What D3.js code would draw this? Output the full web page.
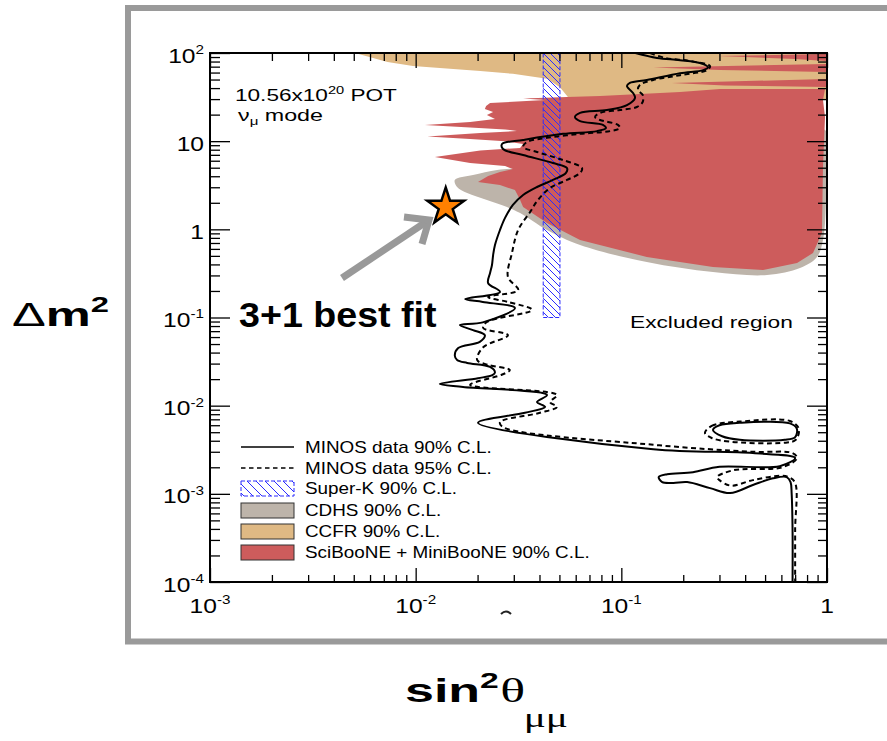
<!DOCTYPE html>
<html>
<head>
<meta charset="utf-8">
<script src="https://cdn.jsdelivr.net/npm/d3@7"></script>
<style>
  html, body { margin: 0; padding: 0; background: #fff; }
  svg { display: block; font-family: "Liberation Sans", Arial, Helvetica, sans-serif; }
</style>
</head>
<body>
<svg id="chart" width="887" height="741"></svg>
<script>
// ---------------- data (sin^2 theta_mumu, Delta m^2 [eV^2]) ----------------
const xTickValues = [1e-3, 1e-2, 1e-1, 1];
const xTickLabels = [["10", "-3"], ["10", "-2"], ["10", "-1"], ["1", ""]];
const yTickValues = [1e-4, 1e-3, 1e-2, 1e-1, 1, 10, 100];
const yTickLabels = [["10", "-4"], ["10", "-3"], ["10", "-2"], ["10", "-1"], ["1", ""], ["10", ""], ["10", "2"]];

// MINOS 90% C.L. contour
const minos90 = [
  [0.117,100],[0.149,88],[0.193,83],[0.241,77],[0.264,69],[0.25,64],[0.193,59],[0.133,49.4],
  [0.110,45.7],[0.1065,42.2],[0.114,35.2],[0.1165,30.9],[0.1065,25.7],[0.0852,22.6],[0.063,20.9],
  [0.0595,18.8],[0.063,16.9],[0.0814,15.3],[0.0842,14.1],[0.0762,13.0],[0.052,12.1],[0.0333,10.3],
  [0.0263,9.29],[0.0266,8.15],[0.0333,6.97],[0.0465,5.65],[0.0544,4.96],[0.0538,4.36],[0.0465,3.63],
  [0.0389,3.02],[0.0333,2.45],[0.0297,1.89],[0.0272,1.35],[0.0257,0.983],[0.0243,0.664],[0.0238,0.51],
  [0.0235,0.394],[0.023,0.32],[0.0225,0.246],[0.0257,0.195],[0.0174,0.162],[0.0212,0.15],[0.0304,0.128],
  [0.0212,0.088],[0.0164,0.082],[0.019,0.072],[0.0217,0.063],[0.0205,0.053],[0.0161,0.045],[0.0155,0.037],
  [0.0159,0.033],[0.0178,0.0305],[0.023,0.0275],[0.0243,0.0238],[0.0236,0.0222],[0.0201,0.0205],
  [0.0131,0.0176],[0.017,0.0163],[0.0435,0.0132],[0.0389,0.011],[0.0426,0.0097],[0.034,0.0083],
  [0.0201,0.0064],[0.143,0.0032],[0.436,0.0029],[0.70,0.00255],[0.589,0.00206],[0.30,0.00203],
  [0.223,0.00176],[0.167,0.00167],[0.152,0.00155],[0.158,0.00136],[0.179,0.00133],[0.209,0.00136],
  [0.27,0.00116],[0.338,0.00102],[0.436,0.00126],[0.546,0.0015],[0.637,0.00155],[0.665,0.00136],
  [0.673,0.00102],[0.68,0.00039],[0.68,0.0001]
];
const minos90Island = [
  [0.279,0.0053],[0.30,0.006],[0.377,0.0064],[0.66,0.0063],[0.713,0.0055],
  [0.70,0.0044],[0.623,0.0041],[0.377,0.0041],[0.309,0.0045]
];

// MINOS 95% C.L. contour
const minos95 = [
  [0.138,100],[0.163,88],[0.216,81],[0.270,71],[0.261,64],[0.193,56],[0.143,49.4],[0.123,43.4],
  [0.1205,38],[0.127,33.4],[0.127,27.8],[0.119,24.4],[0.0985,22.6],[0.0788,20.9],[0.0745,18.8],
  [0.0788,17.4],[0.0963,15.3],[0.0985,14.1],[0.0881,13.0],[0.063,12.1],[0.0435,10.9],[0.0348,9.8],
  [0.0333,8.6],[0.0389,7.54],[0.052,6.11],[0.0644,4.96],[0.063,4.36],[0.0544,3.63],[0.045,2.94],
  [0.0393,2.15],[0.036,1.57],[0.0315,0.983],[0.0294,0.54],[0.0281,0.288],[0.0315,0.205],[0.0225,0.171],
  [0.0281,0.15],[0.0368,0.122],[0.0222,0.089],[0.0213,0.076],[0.0281,0.063],[0.0213,0.046],
  [0.0199,0.033],[0.0225,0.029],[0.0287,0.0254],[0.0262,0.0224],[0.0184,0.0172],[0.0487,0.0132],
  [0.045,0.011],[0.0487,0.0097],[0.0402,0.0083],[0.0257,0.0065],[0.0266,0.0057],[0.143,0.0036],
  [0.436,0.003],[0.68,0.0029],[0.715,0.00255],[0.605,0.002],[0.35,0.00185],[0.292,0.00155],
  [0.30,0.00143],[0.34,0.00124],[0.436,0.00143],[0.589,0.0016],[0.65,0.00155],[0.70,0.00133],
  [0.70,0.00039],[0.70,0.0001]
];
const minos95Island = [
  [0.255,0.0049],[0.275,0.0059],[0.377,0.0066],[0.66,0.0067],[0.729,0.0055],
  [0.705,0.0041],[0.623,0.0038],[0.338,0.0039],[0.275,0.0043]
];

// Super-K 90% C.L. band
const superKSin = [0.0417, 0.0503];
const superKDm = [0.1, 100];

// CDHS 90% C.L.
const cdhsRegion = [
  [0.0155,3.63],[0.0190,4.13],[0.0249,4.71],[0.0311,4.96],[0.0503,6.11],[0.241,7.94],[0.978,13.4],
  [0.989,2.15],[0.956,0.757],[0.894,0.486],[0.739,0.364],[0.511,0.303],[0.279,0.328],[0.133,0.426],
  [0.063,0.664],[0.0435,0.983],[0.0322,1.53],[0.0278,1.79],[0.0222,2.15],[0.0178,2.58],[0.0159,3.02]
];

// CCFR 90% C.L.
const ccfrRegion = [
  [0.00507,100],[1,100],[1,29.3],[0.0545,29.3],[0.055,31.7],[0.0503,41],[0.0435,51],
  [0.0297,58],[0.0206,62.5],[0.0097,71],[0.0073,79]
];

// SciBooNE + MiniBooNE 90% C.L.
const sbmbRegion = [
  [0.0544,31.7],[0.0333,30.5],[0.0426,29.3],[0.0230,27.1],[0.0220,25.1],[0.0217,23.2],[0.0238,21.4],
  [0.0222,19.8],[0.0243,17.8],[0.0184,16.5],[0.0111,15.3],[0.0184,14.3],[0.0272,13.6],[0.0311,13.0],
  [0.0206,12.4],[0.0114,11.3],[0.0184,10.6],[0.0272,10.0],[0.0333,9.29],[0.0322,8.37],[0.0206,7.84],
  [0.0124,6.61],[0.0184,5.65],[0.0272,5.23],[0.0297,4.83],[0.0257,4.47],[0.0225,4.03],[0.0201,3.44],
  [0.0257,3.18],[0.0304,2.79],[0.0322,2.15],[0.0333,1.79],[0.0435,1.18],[0.063,0.757],[0.133,0.486],
  [0.279,0.374],[0.489,0.346],[0.715,0.415],[0.855,0.539],[0.945,0.909],[0.956,5.09],[0.978,18.8],
  [0.956,29.3],[0.978,39.1],[0.302,39.1],[0.193,36.1],[0.0788,32.5]
];
const sbmbFingers = [
  [[0.989,97.4],[0.295,92.5],[0.699,85.5],[0.989,81.2]],
  [[0.989,75.0],[0.143,68.5],[0.302,64.2],[0.989,60.9]],
  [[0.989,50.7],[0.176,45.7],[0.319,42.8],[0.989,41.2]]
];

// 3+1 best fit point
const bestFit = [0.014, 1.8];

const legendLabels = [
  "MINOS data 90% C.L.", "MINOS data 95% C.L.", "Super-K 90% C.L.",
  "CDHS 90% C.L.", "CCFR 90% C.L.", "SciBooNE + MiniBooNE 90% C.L."
];

// ---------------- layout ----------------
const plot = { left: 210, top: 53, right: 827, bottom: 582 };
const colors = { cdhs: "#bdb4aa", ccfr: "#dfb984", sbmb: "#cd5c5c", superK: "#2b2bff", frame: "#9a9a9a", arrow: "#999999", star: "#ff8000" };

const svg = d3.select("#chart");
const x = d3.scaleLog().domain([1e-3, 1]).range([plot.left, plot.right]);
const y = d3.scaleLog().domain([1e-4, 100]).range([plot.bottom, plot.top]);

// outer slide frame
svg.append("rect")
  .attr("x", 128).attr("y", 8).attr("width", 840).attr("height", 633.5)
  .attr("fill", "none").attr("stroke", colors.frame).attr("stroke-width", 6);

const defs = svg.append("defs");
defs.append("clipPath").attr("id", "plotClip").append("rect")
  .attr("x", plot.left).attr("y", plot.top)
  .attr("width", plot.right - plot.left).attr("height", plot.bottom - plot.top);
const hatch = defs.append("pattern").attr("id", "skHatch")
  .attr("patternUnits", "userSpaceOnUse").attr("width", 7).attr("height", 7);
hatch.append("path").attr("d", "M-1,-1L8,8M-8,-1L1,8M6,-1L8,1")
  .attr("stroke", colors.superK).attr("stroke-width", 1).attr("fill", "none");
const hatchWide = defs.append("pattern").attr("id", "skHatchWide")
  .attr("patternUnits", "userSpaceOnUse").attr("width", 9).attr("height", 9);
hatchWide.append("path").attr("d", "M-1,-1L10,10M-10,-1L1,10M8,-1L10,1")
  .attr("stroke", colors.superK).attr("stroke-width", 1).attr("fill", "none");

const regionSmooth = d3.line().x(d => x(d[0])).y(d => y(d[1])).curve(d3.curveCatmullRomClosed.alpha(0.5));
const regionSharp = d3.line().x(d => x(d[0])).y(d => y(d[1])).curve(d3.curveLinearClosed);
const contour = d3.line().x(d => x(d[0])).y(d => y(d[1])).curve(d3.curveCatmullRom.alpha(0.5));

const plotG = svg.append("g").attr("clip-path", "url(#plotClip)");

// excluded regions from other experiments
plotG.append("path").attr("d", regionSmooth(cdhsRegion)).attr("fill", colors.cdhs);
plotG.append("path").attr("d", regionSharp(ccfrRegion)).attr("fill", colors.ccfr);
plotG.append("path").attr("d", regionSharp(sbmbRegion)).attr("fill", colors.sbmb);
sbmbFingers.forEach(f => plotG.append("path").attr("d", regionSharp(f)).attr("fill", colors.sbmb));

// Super-K band
plotG.append("rect")
  .attr("x", x(superKSin[0])).attr("y", y(superKDm[1]))
  .attr("width", x(superKSin[1]) - x(superKSin[0]))
  .attr("height", y(superKDm[0]) - y(superKDm[1]))
  .attr("fill", "url(#skHatch)")
  .attr("stroke", colors.superK).attr("stroke-width", 1).attr("stroke-dasharray", "4,2");

// MINOS contours
plotG.append("path").attr("d", contour(minos90)).attr("fill", "none")
  .attr("stroke", "#000").attr("stroke-width", 2);
plotG.append("path").attr("d", regionSmooth(minos90Island)).attr("fill", "none")
  .attr("stroke", "#000").attr("stroke-width", 2);
plotG.append("path").attr("d", contour(minos95)).attr("fill", "none")
  .attr("stroke", "#000").attr("stroke-width", 2).attr("stroke-dasharray", "5,3.5");
plotG.append("path").attr("d", regionSmooth(minos95Island)).attr("fill", "none")
  .attr("stroke", "#000").attr("stroke-width", 2).attr("stroke-dasharray", "5,3.5");

// ---------------- axes ----------------
const minorOf = vals => {
  const out = [];
  vals.slice(0, -1).forEach(v => { for (let k = 2; k <= 9; k++) out.push(v * k); });
  return out;
};
const minorX = minorOf(xTickValues);
const minorY = minorOf(yTickValues);

function ticks(gen, translate, values, size) {
  const g = svg.append("g").attr("transform", translate)
    .call(gen.tickValues(values).tickSize(size).tickFormat(""));
  g.select(".domain").remove();
  g.selectAll(".tick line").attr("stroke", "#000").attr("stroke-width", 1.3);
}
ticks(d3.axisTop(x), `translate(0,${plot.bottom})`, xTickValues, 14);
ticks(d3.axisTop(x), `translate(0,${plot.bottom})`, minorX, 7);
ticks(d3.axisBottom(x), `translate(0,${plot.top})`, xTickValues, 15);
ticks(d3.axisBottom(x), `translate(0,${plot.top})`, minorX, 8);
ticks(d3.axisRight(y), `translate(${plot.left},0)`, yTickValues, 20);
ticks(d3.axisRight(y), `translate(${plot.left},0)`, minorY, 10);
ticks(d3.axisLeft(y), `translate(${plot.right},0)`, yTickValues, 20);
ticks(d3.axisLeft(y), `translate(${plot.right},0)`, minorY, 9);

svg.append("rect")
  .attr("x", plot.left).attr("y", plot.top)
  .attr("width", plot.right - plot.left).attr("height", plot.bottom - plot.top)
  .attr("fill", "none").attr("stroke", "#000").attr("stroke-width", 2);

// horizontally stretched text helper
function stretched(px, py, sx, anchor) {
  const g = svg.append("g").attr("transform", `translate(${px},${py}) scale(${sx},1)`);
  return g.append("text").attr("text-anchor", anchor || "start");
}
function fitWidth(textSel, px, py, width) {
  const w = textSel.node().getBBox().width;
  d3.select(textSel.node().parentNode).attr("transform", `translate(${px},${py}) scale(${width / w},1)`);
}
function powerLabel(t, base, exp, size) {
  t.attr("font-size", size);
  t.append("tspan").text(base);
  if (exp) t.append("tspan").attr("font-size", size * 0.62).attr("dy", -size * 0.42).text(exp.replace("-", "\u2011"));
}

xTickValues.forEach((v, i) => {
  const t = stretched(x(v), 613, 1.2, "middle");
  powerLabel(t, xTickLabels[i][0], xTickLabels[i][1], 20.5);
});
yTickValues.forEach((v, i) => {
  const t = stretched(plot.left - 6, y(v) + 9.5, 1.2, "end");
  powerLabel(t, yTickLabels[i][0], yTickLabels[i][1], 20.5);
});

// small clipped glyph fragment under the axis
svg.append("path").attr("d", "M501,614Q506,609 511,614").attr("fill", "none")
  .attr("stroke", "#222").attr("stroke-width", 2);

// ---------------- annotations ----------------
const pot = stretched(0, 0, 1, "start").attr("font-size", 17);
pot.append("tspan").text("10.56x10");
pot.append("tspan").attr("font-size", 11).attr("dy", -7).text("20");
pot.append("tspan").attr("dy", 7).text(" POT");
fitWidth(pot, 235, 101, 162);

const mode = stretched(0, 0, 1, "start").attr("font-size", 17);
mode.append("tspan").text("\u03bd");
mode.append("tspan").attr("font-size", 11).attr("dy", 4).text("\u03bc");
mode.append("tspan").attr("dy", -4).text(" mode");
fitWidth(mode, 238, 121, 85);

const excl = stretched(0, 0, 1, "start").attr("font-size", 17).text("Excluded region");
fitWidth(excl, 630, 328, 163);

const best = stretched(0, 0, 1, "start").attr("font-size", 35).attr("font-weight", "bold").text("3+1 best fit");
fitWidth(best, 239, 327, 198);

// arrow to best-fit point
svg.append("line").attr("x1", 342).attr("y1", 278).attr("x2", 426).attr("y2", 222)
  .attr("stroke", colors.arrow).attr("stroke-width", 7);
svg.append("path").attr("d", "M404,217L429,220L422,244")
  .attr("fill", "none").attr("stroke", colors.arrow).attr("stroke-width", 7)
  .attr("stroke-linejoin", "miter").attr("stroke-linecap", "butt");

// best-fit star
svg.append("path")
  .attr("d", d3.symbol(d3.symbolStar).size(420)())
  .attr("transform", `translate(${x(bestFit[0])},${y(bestFit[1])})`)
  .attr("fill", colors.star).attr("stroke", "#000").attr("stroke-width", 2.5)
  .attr("stroke-linejoin", "miter");

// ---------------- legend ----------------
const rowY = [447, 468, 488.5, 510.5, 531.5, 552.5];
const lg = svg.append("g");
lg.append("line").attr("x1", 241).attr("x2", 294).attr("y1", rowY[0]).attr("y2", rowY[0])
  .attr("stroke", "#000").attr("stroke-width", 1.6);
lg.append("line").attr("x1", 241).attr("x2", 294).attr("y1", rowY[1]).attr("y2", rowY[1])
  .attr("stroke", "#000").attr("stroke-width", 1.6).attr("stroke-dasharray", "4.5,3.5");
lg.append("rect").attr("x", 241).attr("y", rowY[2] - 7.5).attr("width", 53).attr("height", 15)
  .attr("fill", "url(#skHatchWide)").attr("stroke", colors.superK).attr("stroke-width", 1).attr("stroke-dasharray", "4,2");
[colors.cdhs, colors.ccfr, colors.sbmb].forEach((c, i) => {
  lg.append("rect").attr("x", 241).attr("y", rowY[3 + i] - 7.5).attr("width", 53).attr("height", 15)
    .attr("fill", c).attr("stroke", "#333").attr("stroke-width", 1);
});
legendLabels.forEach((s, i) => {
  stretched(305, rowY[i] + 5.5, 1.18, "start").attr("font-size", 16).text(s);
});

// ---------------- axis titles ----------------
const ytitle = stretched(0, 0, 1, "start").attr("font-size", 34);
ytitle.append("tspan").text("\u0394");
ytitle.append("tspan").attr("font-weight", "bold").text("m");
ytitle.append("tspan").attr("font-weight", "bold").attr("font-size", 22).attr("dy", -14).text("2");
fitWidth(ytitle, 12, 326, 97);

const serif = "'Liberation Serif', 'Times New Roman', serif";
const xtitle = stretched(0, 0, 1, "start").attr("font-size", 34);
xtitle.append("tspan").attr("font-weight", "bold").text("sin");
xtitle.append("tspan").attr("font-weight", "bold").attr("font-size", 22).attr("dy", -14).text("2");
xtitle.append("tspan").attr("font-family", serif).attr("font-size", 34).attr("dy", 14).attr("dx", 1).text("\u03b8");
xtitle.append("tspan").attr("font-family", serif).attr("font-size", 27).attr("dy", 25).attr("dx", -1).text("\u03bc\u03bc");
fitWidth(xtitle, 405, 702, 163);
</script>
</body>
</html>
